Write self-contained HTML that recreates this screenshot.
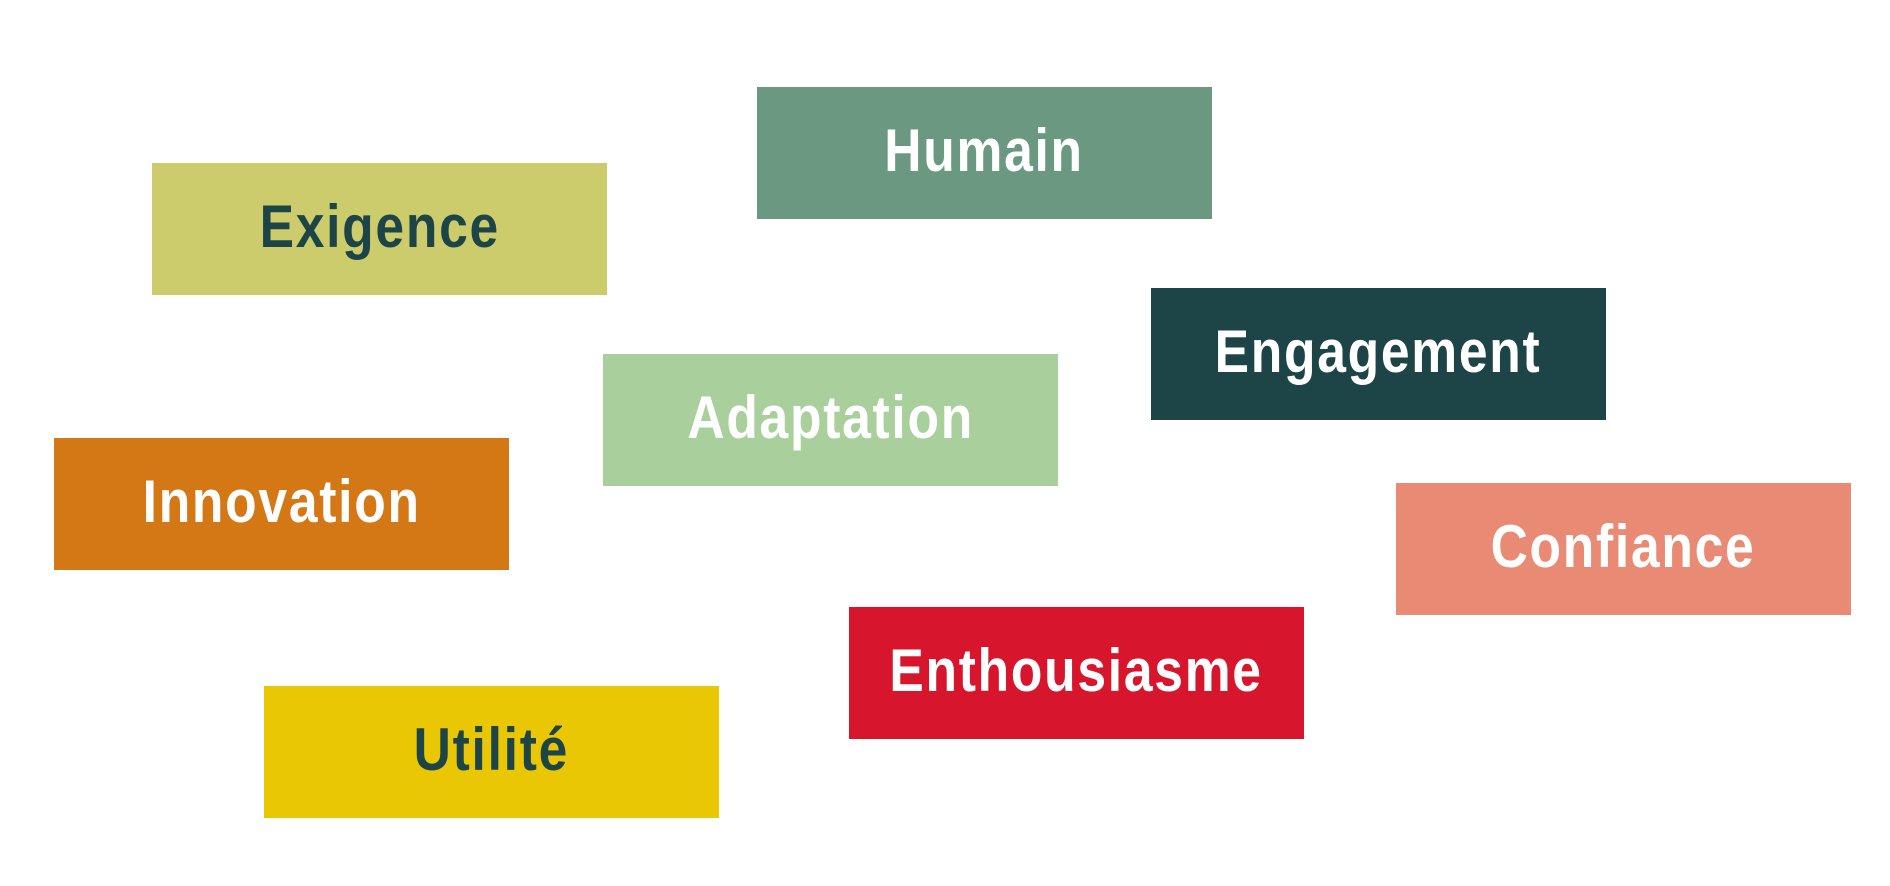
<!DOCTYPE html>
<html><head><meta charset="utf-8"><style>
html,body{margin:0;padding:0;background:#fff;}
body{width:1890px;height:886px;position:relative;overflow:hidden;}
.b{position:absolute;width:455px;height:132px;display:flex;align-items:center;justify-content:center;
font-family:"Liberation Sans Narrow","Liberation Sans",sans-serif;font-weight:bold;font-size:60px;color:#fff;}
.b span{display:inline-block;transform:scaleX(0.86);position:relative;top:-3px;white-space:nowrap;letter-spacing:2px;}
.d{color:#1d4547;}
</style></head><body>
<div class="b" style="left:757px;top:87px;background:#6b9880"><span>Humain</span></div>
<div class="b d" style="left:152px;top:163px;background:#cccc6c"><span>Exigence</span></div>
<div class="b" style="left:1151px;top:288px;background:#1d4547"><span>Engagement</span></div>
<div class="b" style="left:603px;top:354px;background:#a9d09c"><span>Adaptation</span></div>
<div class="b" style="left:54px;top:438px;background:#d47715"><span>Innovation</span></div>
<div class="b" style="left:1396px;top:483px;background:#e88a74"><span>Confiance</span></div>
<div class="b" style="left:849px;top:607px;background:#d7162e"><span>Enthousiasme</span></div>
<div class="b d" style="left:264px;top:686px;background:#eac705"><span>Utilité</span></div>
</body></html>
